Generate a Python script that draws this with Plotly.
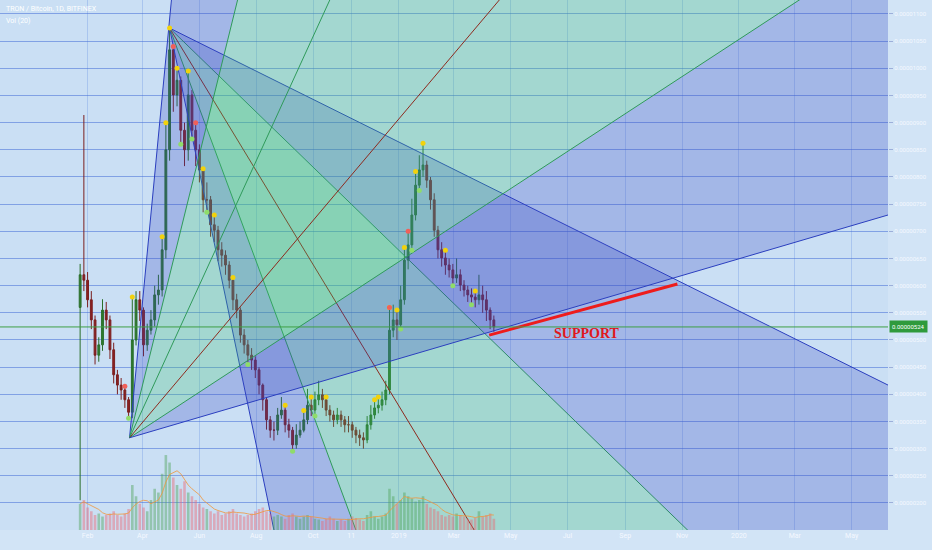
import plotly.graph_objects as go
import pandas as pd

TITLE = "TRON / Bitcoin, 1D, BITFINEX"
VOL_TITLE = "Vol (20)"
SCALE = 1e-8  # prices below are in units of 0.00000001 BTC

start_date = "2018-01-24"
opens = [560, 620, 610, 574, 537, 472, 491, 555, 537, 482,
         436, 417, 408, 390, 367, 500, 574, 555, 491, 518,
         537, 583, 592, 666, 850, 1034, 951, 978, 886, 850,
         951, 886, 850, 813, 758, 758, 712, 702, 666, 656,
         638, 610, 574, 555, 509, 491, 472, 463, 445, 417,
         390, 353, 334, 334, 362, 371, 344, 334, 307, 325,
         334, 353, 380, 371, 390, 399, 390, 371, 362, 353,
         362, 353, 344, 344, 334, 325, 320, 316, 344, 362,
         375, 380, 390, 408, 518, 537, 528, 574, 647, 675,
         730, 785, 813, 822, 794, 758, 702, 666, 651, 638,
         629, 614, 620, 601, 592, 583, 579, 574, 583, 574,
         555, 537]
closes = [620, 610, 574, 537, 472, 491, 555, 537, 482, 436,
          417, 408, 390, 367, 500, 574, 555, 491, 518, 537,
          583, 592, 666, 850, 1034, 951, 978, 886, 850, 951,
          886, 850, 813, 758, 758, 712, 702, 666, 656, 638,
          610, 574, 555, 509, 491, 472, 463, 445, 417, 390,
          353, 334, 334, 362, 371, 344, 334, 307, 325, 334,
          353, 380, 371, 390, 399, 390, 371, 362, 353, 362,
          353, 344, 344, 334, 325, 320, 316, 344, 362, 375,
          380, 390, 408, 518, 537, 528, 574, 647, 675, 730,
          785, 813, 822, 794, 758, 702, 666, 651, 638, 629,
          614, 620, 601, 592, 583, 579, 574, 583, 574, 555,
          537, 524]
highs = [640, 914, 625, 590, 545, 505, 575, 570, 545, 495,
         445, 430, 415, 395, 579, 590, 590, 560, 530, 555,
         600, 620, 690, 900, 1074, 1040, 1000, 985, 900, 995,
         960, 900, 860, 815, 790, 765, 730, 710, 680, 665,
         645, 615, 585, 560, 520, 500, 485, 470, 450, 420,
         395, 360, 350, 375, 395, 380, 355, 340, 345, 350,
         370, 410, 395, 405, 425, 410, 395, 380, 370, 375,
         370, 360, 360, 350, 340, 335, 330, 360, 380, 390,
         395, 405, 425, 560, 565, 555, 600, 670, 700, 760,
         810, 840, 862, 830, 800, 770, 710, 680, 665, 650,
         640, 650, 630, 610, 600, 595, 590, 620, 600, 590,
         560, 545]
lows = [205, 590, 560, 520, 455, 460, 480, 520, 465, 420,
        400, 390, 375, 356, 356, 490, 535, 470, 480, 510,
        525, 565, 580, 650, 830, 920, 930, 860, 820, 830,
        870, 820, 790, 735, 735, 690, 680, 645, 635, 620,
        595, 555, 540, 495, 475, 455, 445, 430, 400, 370,
        335, 320, 315, 325, 355, 330, 320, 295, 300, 320,
        330, 345, 360, 360, 380, 375, 360, 350, 340, 345,
        340, 330, 330, 320, 310, 305, 300, 310, 335, 355,
        365, 370, 380, 400, 505, 500, 520, 565, 630, 665,
        720, 775, 800, 780, 740, 690, 650, 635, 620, 615,
        600, 605, 590, 580, 570, 565, 560, 565, 550, 535,
        520, 515]
volumes = [35, 40, 30, 25, 20, 22, 18, 20, 22, 25,
           20, 18, 22, 28, 60, 45, 35, 30, 25, 40,
           55, 50, 75, 100, 90, 70, 60, 55, 65, 50,
           45, 40, 35, 30, 28, 25, 22, 25, 20, 22,
           25, 28, 22, 20, 18, 20, 22, 25, 28, 30,
           25, 22, 18, 20, 18, 15, 20, 22, 18, 15,
           18, 20, 18, 15, 14, 12, 15, 18, 15, 12,
           14, 12, 15, 18, 16, 14, 12, 20, 25, 18,
           15, 18, 22, 55, 45, 35, 40, 50, 45, 42,
           38, 40, 45, 35, 30, 28, 25, 20, 18, 20,
           18, 22, 20, 18, 15, 14, 16, 25, 18, 20,
           22, 15]

# signal dots (candle index) from the overlay indicator
yellow_idx = [14, 22, 23, 24, 26, 29, 33, 36, 41, 55, 60, 62, 66, 79, 80, 83, 85, 87, 90, 92, 98, 106]
green_idx = [13, 27, 30, 34, 45, 57, 63, 86, 89, 91, 100, 105]
red_idx = [12, 25, 31, 83, 88]

# x-axis ticks
tick_dates = ["2018-02-01", "2018-04-01", "2018-06-01", "2018-08-01", "2018-10-01", "2018-11-11",
              "2019-01-01", "2019-03-01", "2019-05-01", "2019-07-01", "2019-09-01", "2019-11-01",
              "2020-01-01", "2020-03-01", "2020-05-01"]
tick_text = ["Feb", "Apr", "Jun", "Aug", "Oct", "11", "2019", "Mar", "May", "Jul", "Sep", "Nov",
             "2020", "Mar", "May"]
price_ticks = [150, 200, 250, 300, 350, 400, 450, 500, 550, 600, 650, 700, 750, 800,
               850, 900, 950, 1000, 1050, 1100]
last_price = 524

# drawing: fan from the April top (rays pointing down) and fan from the March low (rays pointing up)
fan_a_origin = ("2018-04-30", 1074)
fan_a_rays = [("2018-08-20", 150), ("2018-11-16", 150), ("2019-03-23", 150),
              ("2019-11-07", 150), ("2020-06-09", 417)]
fan_a_line_colors = ["#2b3fbf", "#2f9a5a", "#8e2a1e", "#2f8a6a", "#2b3fbf"]
fan_a_fill_colors = ["blue", "green", "green", "blue"]

fan_b_origin = ("2018-03-18", 320)
fan_b_rays = [("2018-05-02", 1126), ("2018-07-12", 1126), ("2018-10-19", 1126),
              ("2019-04-19", 1126), ("2020-03-06", 1126), ("2020-06-09", 730)]
fan_b_line_colors = ["#2b3fbf", "#2f9a5a", "#2f9a5a", "#8e2a1e", "#2f9a5a", "#2b3fbf"]
fan_b_fill_colors = ["blue", "green", "green", "green", "blue"]

support_line = [("2019-04-08", 509), ("2019-10-27", 603)]
support_label = ("2019-07-22", 512, "SUPPORT")

FILL = {"blue": "rgba(55,70,195,0.26)", "green": "rgba(60,195,110,0.27)"}

dates = pd.date_range(start_date, periods=len(closes), freq="4D")


def far_point(origin, through, k=6.0):
    ox = pd.Timestamp(origin[0])
    tx = pd.Timestamp(through[0])
    return ox + (tx - ox) * k, (origin[1] + (through[1] - origin[1]) * k) * SCALE


fig = go.Figure()

for origin, rays, fills, lcols in [(fan_a_origin, fan_a_rays, fan_a_fill_colors, fan_a_line_colors),
                                    (fan_b_origin, fan_b_rays, fan_b_fill_colors, fan_b_line_colors)]:
    ox, oy = pd.Timestamp(origin[0]), origin[1] * SCALE
    fars = [far_point(origin, r) for r in rays]
    for i, fc in enumerate(fills):
        (x1, y1), (x2, y2) = fars[i], fars[i + 1]
        fig.add_trace(go.Scatter(x=[ox, x1, x2, ox], y=[oy, y1, y2, oy], mode="none",
                                 fill="toself", fillcolor=FILL[fc], hoverinfo="skip",
                                 showlegend=False))
    for (fx, fy), lc in zip(fars, lcols):
        fig.add_trace(go.Scatter(x=[ox, fx], y=[oy, fy], mode="lines",
                                 line=dict(color=lc, width=1), hoverinfo="skip",
                                 showlegend=False))

# volume
vol_colors = ["rgba(80,165,90,0.45)" if c >= o else "rgba(235,105,115,0.45)"
              for o, c in zip(opens, closes)]
fig.add_trace(go.Bar(x=dates, y=volumes, marker=dict(color=vol_colors, line=dict(width=0)),
                     yaxis="y2", showlegend=False, hoverinfo="skip"))
vol_ma = pd.Series(volumes).rolling(5, min_periods=1).mean()
fig.add_trace(go.Scatter(x=dates, y=vol_ma, yaxis="y2", mode="lines",
                         line=dict(color="rgba(240,150,60,0.8)", width=1),
                         showlegend=False, hoverinfo="skip"))

# candles
fig.add_trace(go.Candlestick(
    x=dates,
    open=[v * SCALE for v in opens], high=[v * SCALE for v in highs],
    low=[v * SCALE for v in lows], close=[v * SCALE for v in closes],
    increasing=dict(line=dict(color="#2a6e2a", width=1), fillcolor="#2f7a2f"),
    decreasing=dict(line=dict(color="#7a1f1f", width=1), fillcolor="#8e2020"),
    whiskerwidth=0, showlegend=False))

# indicator dots
for idx, col, use_high in [(yellow_idx, "#f2d20c", True), (green_idx, "#8fdc6a", False),
                           (red_idx, "#f0605a", True)]:
    fig.add_trace(go.Scatter(x=[dates[i] for i in idx],
                             y=[(highs[i] if use_high else lows[i]) * SCALE for i in idx],
                             mode="markers", marker=dict(color=col, size=5),
                             showlegend=False, hoverinfo="skip"))

# support line
fig.add_trace(go.Scatter(x=[p[0] for p in support_line], y=[p[1] * SCALE for p in support_line],
                         mode="lines", line=dict(color="#ee1c1c", width=3),
                         showlegend=False, hoverinfo="skip"))

fig.add_shape(type="line", xref="paper", x0=0, x1=1, yref="y",
              y0=last_price * SCALE, y1=last_price * SCALE,
              line=dict(color="#3f9f45", width=1))

fig.add_annotation(x=support_label[0], y=support_label[1] * SCALE, text="<b>%s</b>" % support_label[2],
                   showarrow=False, font=dict(family="Liberation Serif", size=14, color="#e0181c"))
fig.add_annotation(xref="paper", yref="y", x=1, y=last_price * SCALE, xanchor="left",
                   text="%.8f" % (last_price * SCALE), showarrow=False, xshift=1,
                   bgcolor="#2f9a3c", font=dict(family="Roboto", size=6, color="white"),
                   borderpad=2)
fig.add_annotation(xref="paper", yref="paper", x=0.005, y=0.995, xanchor="left", yanchor="top",
                   text=TITLE, showarrow=False, font=dict(family="Roboto", size=7, color="white"))
fig.add_annotation(xref="paper", yref="paper", x=0.005, y=0.972, xanchor="left", yanchor="top",
                   text=VOL_TITLE, showarrow=False, font=dict(family="Roboto", size=7, color="white"))

fig.update_layout(
    width=932, height=550,
    margin=dict(l=0, r=44, t=0, b=20, autoexpand=False),
    paper_bgcolor="#d2e4f6", plot_bgcolor="#cadff4",
    bargap=0.3,
    xaxis=dict(type="date", range=["2017-10-30", "2020-06-09"], tickvals=tick_dates,
               ticktext=tick_text, showgrid=True, gridcolor="rgba(110,150,225,0.35)",
               tickfont=dict(family="Roboto", size=7, color="#f4f8ff"),
               rangeslider=dict(visible=False), zeroline=False, showline=False,
               fixedrange=True),
    yaxis=dict(side="right", range=[150.3 * SCALE, 1125.7 * SCALE],
               tickvals=[v * SCALE for v in price_ticks],
               ticktext=["%.8f" % (v * SCALE) for v in price_ticks],
               showgrid=True, gridcolor="rgba(70,110,215,0.55)", ticks="outside", ticklen=4,
               tickcolor="rgba(120,140,200,0.6)",
               tickfont=dict(family="Roboto", size=6, color="#f4f8ff"), zeroline=False),
    yaxis2=dict(overlaying="y", range=[0, 707], visible=False, fixedrange=True),
)

fig.write_html("out.html", config={"displayModeBar": False},
               post_script="document.body.style.margin='0';document.body.style.overflow='hidden';")
